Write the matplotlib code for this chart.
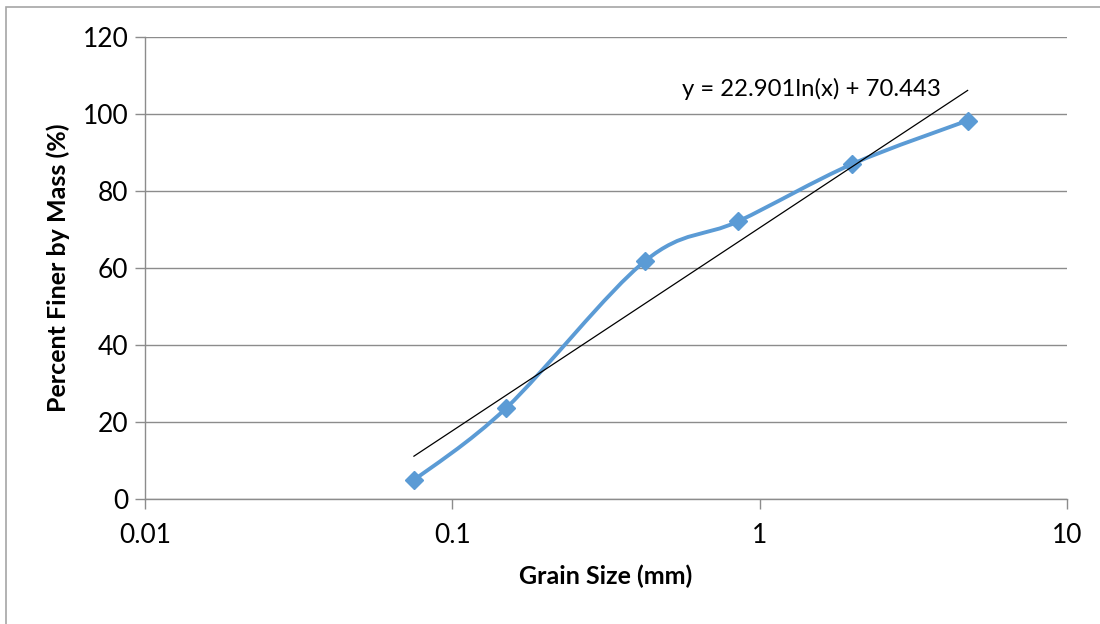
import numpy as np
import matplotlib
matplotlib.use("Agg")
import matplotlib.pyplot as plt
from matplotlib.path import Path
from matplotlib.patches import PathPatch, Rectangle

# sieve analysis data
grain_size = [0.075, 0.15, 0.425, 0.85, 2.0, 4.75]
percent_finer = [4.9, 23.7, 61.9, 72.1, 87.0, 98.3]
trend_a, trend_b = 22.901, 70.443
y_ticks = [0, 20, 40, 60, 80, 100, 120]
x_ticks = [0.01, 0.1, 1, 10]
x_tick_labels = ["0.01", "0.1", "1", "10"]

plt.rcParams["font.family"] = ["Lato", "DejaVu Sans"]

fig = plt.figure(figsize=(11, 6.24), dpi=100)
ax = fig.add_axes([145 / 1100, 1 - 499 / 624, 922 / 1100, 462 / 624])

# chart area border
fig.patches.append(Rectangle((6 / 1100, -0.1), 1.2, 1 - 7 / 624 + 0.1,
                             transform=fig.transFigure, fill=False,
                             edgecolor="#a6a6a6", linewidth=1.2))

ax.set_xscale("log")
ax.set_xlim(0.01, 10)
ax.set_ylim(0, 120)
ax.set_yticks(y_ticks)
ax.set_xticks(x_ticks)
ax.set_xticklabels(x_tick_labels)
ax.xaxis.set_minor_locator(matplotlib.ticker.NullLocator())
ax.grid(axis="y", color="#8c8c8c", linewidth=1.0)
ax.set_axisbelow(True)
for s in ["top", "right"]:
    ax.spines[s].set_visible(False)
for s in ["left", "bottom"]:
    ax.spines[s].set_color("#8c8c8c")
    ax.spines[s].set_linewidth(1.0)
ax.tick_params(axis="both", colors="#8c8c8c", labelcolor="black",
               labelsize=19, length=7, width=1.0)
ax.tick_params(axis="x", pad=10)
ax.tick_params(axis="y", pad=5)

# smoothed line (Catmull-Rom bezier in log-x space, like Excel's smoothing)
lx = np.log10(grain_size)
yy = np.array(percent_finer)
n = len(lx)
verts = [(grain_size[0], yy[0])]
codes = [Path.MOVETO]
for i in range(n - 1):
    p0 = max(i - 1, 0)
    p3 = min(i + 2, n - 1)
    c1x = lx[i] + (lx[i + 1] - lx[p0]) / 6
    c1y = yy[i] + (yy[i + 1] - yy[p0]) / 6
    c2x = lx[i + 1] - (lx[p3] - lx[i]) / 6
    c2y = yy[i + 1] - (yy[p3] - yy[i]) / 6
    verts += [(10 ** c1x, c1y), (10 ** c2x, c2y), (grain_size[i + 1], yy[i + 1])]
    codes += [Path.CURVE4] * 3
ax.add_patch(PathPatch(Path(verts, codes), fill=False, edgecolor="#5b9bd5",
                       linewidth=2.8, zorder=3, capstyle="round"))
ax.plot(grain_size, percent_finer, linestyle="none", marker="D",
        markersize=9, color="#5b9bd5", zorder=4)

# logarithmic trendline
tx = np.array([grain_size[0], grain_size[-1]])
tline_x = np.logspace(np.log10(tx[0]), np.log10(tx[1]), 50)
ax.plot(tline_x, trend_a * np.log(tline_x) + trend_b, color="black",
        linewidth=0.9, zorder=5)
ax.text(3.9, 106.5, f"y = {trend_a}ln(x) + {trend_b}", fontsize=17.2,
        ha="right", va="center")

ax.set_xlabel("Grain Size (mm)", fontsize=18, fontweight="bold", labelpad=12)
ax.set_ylabel("Percent Finer by Mass (%)", fontsize=18, fontweight="bold",
              labelpad=9)

fig.savefig("out.png", dpi=100)
